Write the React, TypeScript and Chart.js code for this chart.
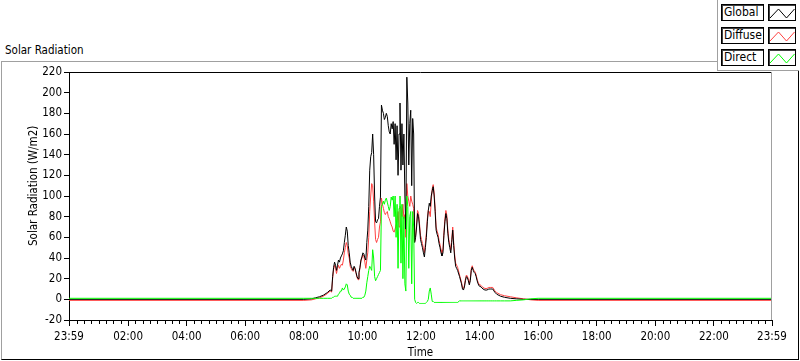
import React, { useEffect, useRef } from 'react';
import { Chart, registerables } from 'chart.js';

Chart.register(...registerables);

const FONT = "'DejaVu Sans Condensed', 'DejaVu Sans', sans-serif";
const FS = 11.5;

// time in minutes since midnight (-1 = 23:59 of the previous day)
const times = [
  -1, 480, 496, 504, 512, 520, 528, 534, 537,
  539, 541, 543, 545, 547, 549, 551, 553, 555, 557,
  559, 561, 563, 565, 567, 569, 571, 573, 575, 577,
  579, 581, 583, 585, 587, 589, 591, 593, 595, 597,
  599, 601, 603, 605, 607, 609, 611, 613, 615, 617,
  619, 621, 623, 625, 627, 629, 631, 633, 635, 637,
  639, 641, 643, 645, 647, 649, 651, 653, 655, 657,
  659, 661, 663, 665, 667, 669, 671, 673, 675, 677,
  679, 681, 683, 685, 687, 689, 691, 693, 695, 697,
  699, 701, 703, 705, 707, 709, 711, 713, 715, 717,
  719, 721, 723, 725, 727, 729, 731, 733, 735, 737,
  739, 741, 743, 745, 747, 749, 751, 753, 755, 757,
  759, 761, 763, 765, 767, 769, 771, 773, 775, 777,
  779, 781, 783, 785, 787, 789, 791, 793, 795,
  799, 803, 805, 807, 809, 811, 813, 815, 817, 819,
  821, 823, 825, 827, 829, 831, 833, 835, 837, 839,
  843, 847, 851, 855, 859, 863, 867, 871, 875,
  883, 891, 903, 915, 930, 945, 960, 1439,
];

const globalVals = [
  0, 0, 0.5, 1.5, 2.5, 4, 6.5, 9, 8,
  22, 31, 36, 33, 28, 33, 38, 36, 40, 42,
  44, 47, 55, 62, 70, 66, 52, 45, 36, 32,
  30, 28, 32, 30, 26, 22, 20, 26, 31, 38,
  41, 45, 44, 40, 38, 55, 67, 90, 125, 138,
  142, 160, 140, 100, 75, 74, 77, 78, 90, 99,
  188, 183, 180, 174, 176, 180, 177, 168, 162, 160,
  170, 165, 172, 150, 170, 135, 168, 120, 160, 190,
  125, 170, 130, 160, 100, 68, 215, 190, 130, 170,
  183, 110, 175, 160, 55, 60, 70, 83, 80, 70,
  58, 54, 50, 45, 41, 50, 60, 75, 86, 93,
  90, 100, 105, 109, 100, 85, 67, 63, 60, 54,
  50, 45, 42, 45, 62, 75, 83, 78, 64, 55,
  50, 45, 55, 67, 52, 40, 32, 30, 28,
  22, 15, 10, 9, 12, 18, 22, 21, 18, 14,
  18, 28, 31, 28, 26, 25, 22, 18, 15, 13,
  12, 10, 9, 9, 10, 10, 10, 7, 5,
  3, 2, 1, 0.5, 0, 0, 0, 0,
];

const diffuseVals = [
  -1, -1, -0.5, 0.5, 1.5, 3, 5.5, 8, 7,
  20, 29, 33, 30, 25, 30, 33, 30, 32, 34,
  33, 38, 45, 50, 55, 52, 44, 40, 32, 30,
  28, 27, 31, 29, 25, 21, 19, 25, 30, 37,
  40, 43, 42, 36, 30, 38, 45, 60, 85, 100,
  112, 110, 95, 75, 58, 55, 58, 60, 70, 75,
  98, 92, 88, 84, 82, 84, 85, 80, 78, 75,
  72, 70, 66, 65, 68, 72, 75, 85, 70, 90,
  88, 80, 92, 78, 82, 60, 112, 100, 95, 90,
  100, 95, 92, 88, 56, 62, 74, 86, 83, 73,
  62, 58, 54, 49, 45, 54, 64, 78, 86, 85,
  80, 95, 107, 111, 103, 88, 70, 66, 63, 57,
  53, 48, 45, 48, 65, 78, 86, 81, 67, 58,
  53, 48, 58, 70, 55, 43, 35, 33, 31,
  23.5, 16.5, 11.5, 10.5, 13.5, 19.5, 23.5, 22.5, 19.5, 15.5,
  19.5, 29.5, 32.5, 29.5, 27.5, 26.5, 23.5, 19.5, 16.5, 14.5,
  13.5, 11.5, 10.5, 10.5, 11.5, 11.5, 11.5, 8.5, 6.5,
  4.5, 3.5, 2.5, 1.5, 0.5, -0.5, -1, -1,
];

const directVals = [
  1, 1, 1, 1, 1, 1, 1, 1, 1,
  2, 2, 3, 3, 3, 3, 5, 6, 8, 8,
  11, 9, 10, 12, 15, 14, 8, 5, 4, 2,
  2, 1, 1, 1, 1, 1, 1, 1, 1, 1,
  1, 2, 2, 4, 8, 16, 22, 28, 32, 30,
  28, 48, 40, 22, 18, 20, 22, 24, 26, 28,
  90, 92, 95, 92, 96, 98, 94, 90, 86, 90,
  99, 96, 100, 80, 100, 60, 92, 30, 88, 100,
  35, 92, 20, 80, 15, 8, 100, 90, 30, 80,
  85, 15, 85, 70, 0, -3, -4, -3, -3, -4,
  -4, -4, -4, -4, -4, -4, -3, -2, 0, 8,
  11, 5, -2, -2, -3, -3, -3, -3, -3, -3,
  -3, -3, -3, -3, -3, -3, -3, -3, -3, -3,
  -3, -3, -3, -3, -3, -3, -3, -3, -3,
  -1.5, -1.5, -1.5, -1.5, -1.5, -1.5, -1.5, -1.5, -1.5, -1.5,
  -1.5, -1.5, -1.5, -1.5, -1.5, -1.5, -1.5, -1.5, -1.5, -1.5,
  -1.5, -1.5, -1.5, -1.5, -1.5, -1.5, -1.5, -1.5, -1.5,
  -1.5, -1.5, -1.5, -1, -0.5, 0.5, 1, 1,
];

const xTickValues = [-1, 120, 240, 360, 480, 600, 720, 840, 960, 1080, 1200, 1320, 1439];
const xTickLabels = ['23:59', '02:00', '04:00', '06:00', '08:00', '10:00', '12:00', '14:00', '16:00', '18:00', '20:00', '22:00', '23:59'];
const xMinorStep = 15;
const yMin = -20;
const yMax = 220;
const yStep = 20;

const seriesNames = ['Global', 'Diffuse', 'Direct'];
const seriesColors = ['#000000', '#ff4040', '#00ff00'];

const framePlugin = {
  id: 'lvframe',
  afterDraw(chart: any) {
    const { ctx, chartArea: a, scales } = chart;
    ctx.save();
    ctx.lineWidth = 1;
    ctx.strokeStyle = '#000';
    ctx.beginPath();
    ctx.moveTo(a.left, a.top + 0.5);
    ctx.lineTo(a.right, a.top + 0.5);
    ctx.stroke();
    ctx.strokeStyle = '#a0a0a0';
    ctx.beginPath();
    ctx.moveTo(a.right - 0.5, a.top);
    ctx.lineTo(a.right - 0.5, a.bottom);
    ctx.stroke();
    const xs = scales.x;
    ctx.strokeStyle = '#000';
    ctx.beginPath();
    for (let m = xMinorStep; m < 1440; m += xMinorStep) {
      if (m % 120 === 0) continue;
      const px = Math.round(xs.getPixelForValue(m)) + 0.5;
      ctx.moveTo(px, a.bottom + 1);
      ctx.lineTo(px, a.bottom + 4);
    }
    ctx.stroke();
    ctx.restore();
  },
};

export default function App() {
  const ref = useRef<HTMLCanvasElement>(null);

  useEffect(() => {
    const mk = (vals: number[]) => times.map((t, i) => ({ x: t, y: vals[i] }));
    const ds = (idx: number, vals: number[]) => ({
      label: seriesNames[idx],
      data: mk(vals),
      borderColor: seriesColors[idx],
      backgroundColor: seriesColors[idx],
      borderWidth: 1,
      pointRadius: 0,
      tension: 0,
      fill: false,
    });
    const chart = new Chart(ref.current as HTMLCanvasElement, {
      type: 'line',
      data: {
        datasets: [ds(2, directVals), ds(0, globalVals), ds(1, diffuseVals)],
      },
      options: {
        animation: false,
        responsive: false,
        events: [],
        layout: { padding: { left: 0, top: 72, right: 28, bottom: 0 } },
        plugins: { legend: { display: false }, tooltip: { enabled: false } },
        scales: {
          x: {
            type: 'linear',
            min: -1,
            max: 1439,
            afterFit: (s: any) => { s.height = 41; },
            afterBuildTicks: (s: any) => { s.ticks = xTickValues.map((v) => ({ value: v })); },
            ticks: {
              autoSkip: false,
              maxRotation: 0,
              color: '#000',
              padding: 4,
              font: { family: FONT, size: FS },
              callback: (v: any) => {
                const i = xTickValues.indexOf(Number(v));
                return i >= 0 ? xTickLabels[i] : '';
              },
            },
            grid: { display: true, drawOnChartArea: false, drawTicks: true, tickLength: 6, tickColor: '#000', color: '#000' },
            border: { display: true, color: '#000', width: 1 },
            title: { display: true, text: 'Time', color: '#000', font: { family: FONT, size: FS }, padding: { top: 0, bottom: 1 } },
          },
          y: {
            type: 'linear',
            min: yMin,
            max: yMax,
            afterFit: (s: any) => { s.width = 69; },
            ticks: { stepSize: yStep, color: '#000', padding: 2, font: { family: FONT, size: FS } },
            grid: { display: true, drawOnChartArea: false, drawTicks: true, tickLength: 5, tickColor: '#000', color: '#000' },
            border: { display: true, color: '#000', width: 1 },
          },
        },
      },
      plugins: [framePlugin],
    } as any);
    return () => chart.destroy();
  }, []);

  const boxBase: React.CSSProperties = {
    position: 'absolute',
    boxSizing: 'border-box',
    height: 17,
    border: '1px solid #000',
    boxShadow: 'inset 1px 1px 0 #404040',
    background: '#fff',
  };

  return (
    <div style={{ position: 'fixed', left: 0, top: 0, width: 800, height: 361, background: '#fff', overflow: 'hidden', fontFamily: FONT, color: '#000' }}>
      <div style={{ position: 'absolute', left: 1, top: 61, width: 796, height: 297, borderLeft: '1px solid #a0a0a0', borderTop: '1px solid #a0a0a0', borderRight: '1px solid #000', borderBottom: '1px solid #000' }} />
      <div style={{ position: 'absolute', left: 5, top: 43, fontSize: FS, lineHeight: '14px', whiteSpace: 'nowrap' }}>Solar Radiation</div>
      <canvas ref={ref} width={800} height={361} style={{ position: 'absolute', left: 0, top: 0, width: 800, height: 361 }} />
      <div style={{ position: 'absolute', left: 26, top: 86, width: 14, height: 200, display: 'flex', alignItems: 'center', justifyContent: 'center', writingMode: 'vertical-rl', transform: 'rotate(180deg)', fontSize: FS, lineHeight: '14px', whiteSpace: 'nowrap', color: '#000' }}>Solar Radiation (W/m2)</div>
      <div style={{ position: 'absolute', left: 717, top: -1, width: 81, height: 71, background: '#fff', borderLeft: '1px solid #a0a0a0', borderBottom: '1px solid #a0a0a0' }} />
      {seriesNames.map((name, i) => {
        const top = 4 + Math.round(i * 22.6);
        return (
          <React.Fragment key={name}>
            <div style={{ ...boxBase, left: 721, top, width: 43, fontSize: 12, lineHeight: '15px', paddingLeft: 2 }}>{name}</div>
            <div style={{ ...boxBase, left: 768, top, width: 28 }}>
              <svg width={26} height={15} style={{ position: 'absolute', left: 0, top: 0 }}>
                <polyline points="1,13 9.5,4 17.5,13 25.5,4" fill="none" stroke={seriesColors[i]} strokeWidth={1} />
              </svg>
            </div>
          </React.Fragment>
        );
      })}
    </div>
  );
}
